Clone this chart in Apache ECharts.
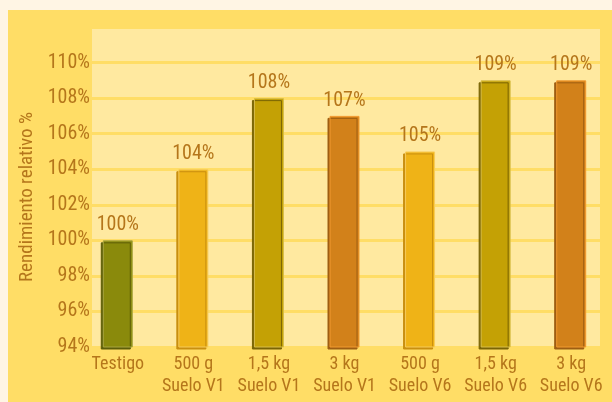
<!DOCTYPE html>
<html>
<head>
<meta charset="utf-8">
<script src="https://cdn.jsdelivr.net/npm/echarts@6/dist/echarts.min.js"></script>
<style>
html, body { margin: 0; padding: 0; background: #FFF5E4; }
#chart { width: 612px; height: 402px; }
</style>
</head>
<body>
<div id="chart"></div>
<script>
// datos
var categorias = ['Testigo', '500 g\nSuelo V1', '1,5 kg\nSuelo V1', '3 kg\nSuelo V1', '500 g\nSuelo V6', '1,5 kg\nSuelo V6', '3 kg\nSuelo V6'];
var rendimiento = [100, 104, 108, 107, 105, 109, 109];
var colores = ['#8A8A0C', '#EFB317', '#C4A105', '#D2811A', '#EFB317', '#C4A105', '#D2811A'];
var bordes = ['#A9A640', '#F7CB5A', '#D9BE4A', '#F29A30', '#F7CB5A', '#D9BE4A', '#F29A30'];
var sombras = ['#5E5E08', '#C98F10', '#7A6404', '#9E5E12', '#C98F10', '#7A6404', '#9E5E12'];

var fuente = '"Liberation Sans Narrow", "Roboto Condensed", sans-serif';
var marron = '#B5761B';

var datos = rendimiento.map(function (v, i) {
	return {
		value: v,
		itemStyle: {
			color: colores[i],
			borderColor: bordes[i],
			borderWidth: 1,
			shadowColor: sombras[i],
			shadowBlur: 0,
			shadowOffsetX: -2,
			shadowOffsetY: 2
		}
	};
});

var myChart = echarts.init(document.getElementById('chart'));
var option = {
	backgroundColor: '#FFF5E4',
	animation: false,
	graphic: [{
		type: 'rect',
		z: -10,
		shape: { x: 8, y: 10, width: 604, height: 392 },
		style: { fill: '#FFDD66' }
	}],
	grid: [
		{ left: 92, right: 12, top: 27, bottom: 55, show: true, backgroundColor: '#FFE9A0', borderWidth: 0 },
		{ left: 80, right: 3, top: 27, bottom: 55 }
	],
	xAxis: [
		{ gridIndex: 0, type: 'category', data: categorias, show: false },
		{
			gridIndex: 1, type: 'category', data: categorias,
			axisLine: { show: false }, axisTick: { show: false },
			axisLabel: { interval: 0, color: marron, fontFamily: fuente, fontSize: 18, lineHeight: 22, margin: 6 }
		}
	],
	yAxis: [
		{
			gridIndex: 0, type: 'value', min: 94, max: 112, interval: 2,
			name: 'Rendimiento relativo %', nameLocation: 'middle', nameGap: 49, nameRotate: 90,
			nameTextStyle: { color: marron, fontFamily: fuente, fontSize: 19, padding: [0, 20, 0, 0] },
			axisLine: { show: false }, axisTick: { show: false },
			axisLabel: {
				color: marron, fontFamily: fuente, fontSize: 20, margin: 2,
				formatter: function (v) { return v > 110 ? '' : v + '%'; }
			},
			splitLine: { lineStyle: { color: '#FFDD66', width: 3 } }
		},
		{ gridIndex: 1, type: 'value', min: 94, max: 112, interval: 2, show: false, splitLine: { show: false } }
	],
	series: [{
		type: 'bar',
		xAxisIndex: 1,
		yAxisIndex: 1,
		barWidth: 30,
		data: datos,
		label: {
			show: true, position: 'top', distance: 5,
			color: marron, fontFamily: fuente, fontSize: 20,
			formatter: '{c}%'
		}
	}]
};
myChart.setOption(option);
</script>
</body>
</html>
